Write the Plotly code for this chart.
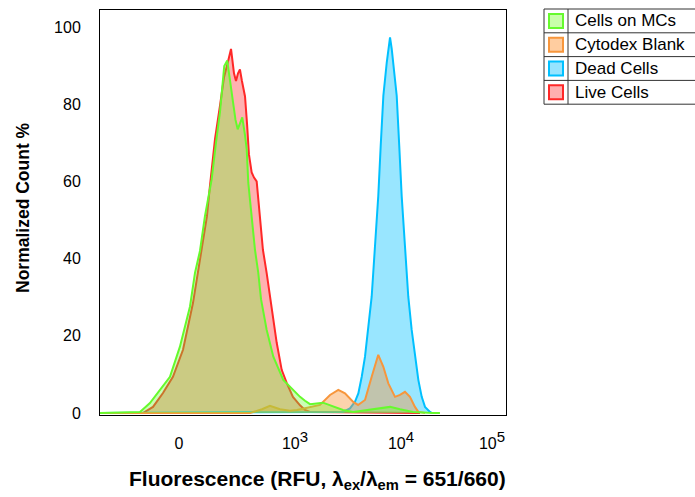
import plotly.graph_objects as go

# Display-scale positions (biexponential axis) and normalized counts for each sample
live_x = [-0.745, -0.340, -0.245, -0.151, -0.057, 0.038, 0.132, 0.179, 0.217, 0.264, 0.292,
          0.340, 0.387, 0.425, 0.462, 0.491, 0.519, 0.538, 0.557, 0.575, 0.594, 0.623,
          0.642, 0.660, 0.686, 0.708, 0.733, 0.764, 0.792, 0.827, 0.858, 0.922, 0.969,
          1.016, 1.075, 1.142, 1.189, 1.236, 2.274]
live_y = [0, 0, 1.6, 5.2, 9.4, 16.4, 28.5, 36.3, 42.3, 51, 58.8,
          71, 79.6, 87, 91, 94.3, 88, 86, 88, 89, 86, 82,
          75, 67, 62.3, 61, 60, 51, 42.3, 36.3, 30.2, 18.2, 11.2,
          7.8, 4.2, 2.0, 0.8, 0.3, 0]

dead_x = [-0.745, 1.547, 1.613, 1.660, 1.692, 1.724, 1.755, 1.786, 1.818, 1.849, 1.880,
          1.903, 1.928, 1.960, 1.975, 1.991, 2.007, 2.022, 2.054, 2.078, 2.101, 2.132,
          2.163, 2.195, 2.226, 2.258, 2.290, 2.321, 2.368, 2.387]
dead_y = [0, 0.3, 1.2, 2.9, 5.1, 9.4, 14.6, 21.6, 30.2, 43.2, 56.2,
          69.2, 82.2, 90.8, 94.3, 97.3, 94.3, 90.8, 82.2, 69.2, 56.2, 43.2,
          30.2, 21.6, 14.6, 8.6, 4.2, 1.6, 0.3, 0]

blank_x = [-0.745, 0.670, 0.783, 0.858, 0.953, 1.047, 1.113, 1.208, 1.330, 1.425, 1.503,
           1.566, 1.644, 1.689, 1.755, 1.818, 1.880, 1.928, 1.975, 2.038, 2.085, 2.132,
           2.179, 2.226, 2.258, 2.321]
blank_y = [0, 0, 1.0, 1.9, 1.0, 0.6, 0.8, 1.3, 2.1, 4.7, 6.0,
           5.1, 2.9, 2.1, 3.4, 9.4, 15.1, 12.0, 7.7, 4.2, 4.7, 5.5,
           4.2, 1.6, 0.3, 0]

mc_x = [-0.745, -0.368, -0.274, -0.179, -0.085, 0.009, 0.104, 0.151, 0.198, 0.245, 0.308,
        0.349, 0.387, 0.427, 0.456, 0.472, 0.500, 0.533, 0.554, 0.575, 0.597, 0.623,
        0.639, 0.654, 0.686, 0.717, 0.748, 0.774, 0.827, 0.890, 0.984, 1.078, 1.142,
        1.189, 1.236, 1.358, 1.453, 1.547, 1.642, 1.774, 1.896, 1.991, 2.085, 2.208,
        2.396, 2.462]
mc_y = [0, 0.3, 2.6, 6.0, 9.4, 17.2, 27.6, 36.3, 42.0, 51.0, 60.5,
        70.0, 78.0, 89.9, 91.3, 88.0, 82.0, 76.0, 73.5, 75.0, 76.6, 72.0,
        68.3, 59.6, 51.0, 42.3, 36.3, 29.5, 21.6, 14.6, 8.6, 6.0, 4.2,
        3.2, 2.3, 2.7, 1.8, 0.8, 0.3, 0.8, 1.2, 1.6, 1.0, 0.3,
        0, 0]

x_tick_vals = [0.0, 1.094, 2.094, 2.953]
x_tick_text = ["0",
               "10<sup><span style='font-size:15px'>3</span></sup>",
               "10<sup><span style='font-size:15px'>4</span></sup>",
               "10<sup><span style='font-size:15px'>5</span></sup>"]
y_tick_vals = [0, 20, 40, 60, 80, 100]

legend_names = ["Cells on MCs", "Cytodex Blank", "Dead Cells", "Live Cells"]

# name -> (line colour, area fill, legend swatch fill)
styles = {
    "Cells on MCs": ("rgb(102,250,45)", "rgba(110,250,50,0.36)", "rgb(200,255,170)"),
    "Cytodex Blank": ("rgb(247,150,60)", "rgba(247,150,60,0.42)", "rgb(255,205,160)"),
    "Dead Cells": ("rgb(0,192,255)", "rgba(0,192,255,0.40)", "rgb(150,228,255)"),
    "Live Cells": ("rgb(255,40,40)", "rgba(255,40,40,0.36)", "rgb(255,175,175)"),
}

W, H = 695, 497
ML, MR, MT, MB = 100, 189, 10, 82
PW, PH = W - ML - MR, H - MT - MB


def fx(px):
    return (px - ML) / PW


def fy(py):
    return (H - MB - py) / PH


fig = go.Figure()

# stacking order: first drawn sits at the bottom
for name, xs, ys in [("Live Cells", live_x, live_y),
                     ("Dead Cells", dead_x, dead_y),
                     ("Cytodex Blank", blank_x, blank_y),
                     ("Cells on MCs", mc_x, mc_y)]:
    line_c, fill_c, _ = styles[name]
    fig.add_trace(go.Scatter(
        x=xs, y=ys, mode="lines", name=name, fill="tozeroy",
        line=dict(color=line_c, width=2), fillcolor=fill_c,
        showlegend=False, hoverinfo="skip"))

font_family = "Liberation Sans, Arial, Helvetica, sans-serif"

fig.update_layout(
    width=W, height=H,
    margin=dict(l=ML, r=MR, t=MT, b=MB, pad=0),
    paper_bgcolor="white", plot_bgcolor="white",
    font=dict(family=font_family, color="black", size=16),
    xaxis=dict(range=[-0.745, 3.085], tickmode="array", tickvals=x_tick_vals,
               ticktext=x_tick_text, showgrid=False, zeroline=False,
               showline=True, mirror=True, linecolor="black", linewidth=1,
               ticks="", ticklabelstandoff=14, tickfont=dict(size=16)),
    yaxis=dict(range=[-0.5, 104.4], tickmode="array", tickvals=y_tick_vals,
               showgrid=False, zeroline=False, showline=True, mirror=True,
               linecolor="black", linewidth=1, ticks="", ticklabelstandoff=15,
               tickfont=dict(size=16)),
)

# axis titles
fig.add_annotation(
    xref="paper", yref="paper", x=fx(317), y=fy(480), showarrow=False,
    xanchor="center", yanchor="middle",
    text="<b>Fluorescence (RFU, λ<sub>ex</sub>/λ<sub>em</sub> = 651/660)</b>",
    font=dict(size=21, family=font_family))
fig.add_annotation(
    xref="paper", yref="paper", x=fx(23), y=fy(208), showarrow=False,
    xanchor="center", yanchor="middle", textangle=-90,
    text="<b>Normalized Count %</b>", font=dict(size=17.5, family=font_family))

# table-style legend
box_l, box_r, box_t, row_h = 544, 720, 9, 23.8
div_x = 568
shapes = []
shapes.append(dict(type="rect", xref="paper", yref="paper",
                   x0=fx(box_l), x1=fx(box_r), y0=fy(box_t + 4 * row_h), y1=fy(box_t),
                   line=dict(color="#333333", width=1), fillcolor="white"))
shapes.append(dict(type="line", xref="paper", yref="paper",
                   x0=fx(div_x), x1=fx(div_x), y0=fy(box_t + 4 * row_h), y1=fy(box_t),
                   line=dict(color="#333333", width=1)))
for i in range(1, 4):
    yy = box_t + i * row_h
    shapes.append(dict(type="line", xref="paper", yref="paper",
                       x0=fx(box_l), x1=fx(box_r), y0=fy(yy), y1=fy(yy),
                       line=dict(color="#333333", width=1)))
for i, name in enumerate(legend_names):
    line_c, _, sw_c = styles[name]
    cy = box_t + (i + 0.5) * row_h
    shapes.append(dict(type="rect", xref="paper", yref="paper",
                       x0=fx(549), x1=fx(563), y0=fy(cy + 7), y1=fy(cy - 7),
                       line=dict(color=line_c, width=2), fillcolor=sw_c))
    fig.add_annotation(xref="paper", yref="paper", x=fx(573), y=fy(cy),
                       xanchor="left", yanchor="middle", showarrow=False,
                       text=name, font=dict(size=17, family=font_family))
fig.update_layout(shapes=shapes)

fig.write_html("out.html")
